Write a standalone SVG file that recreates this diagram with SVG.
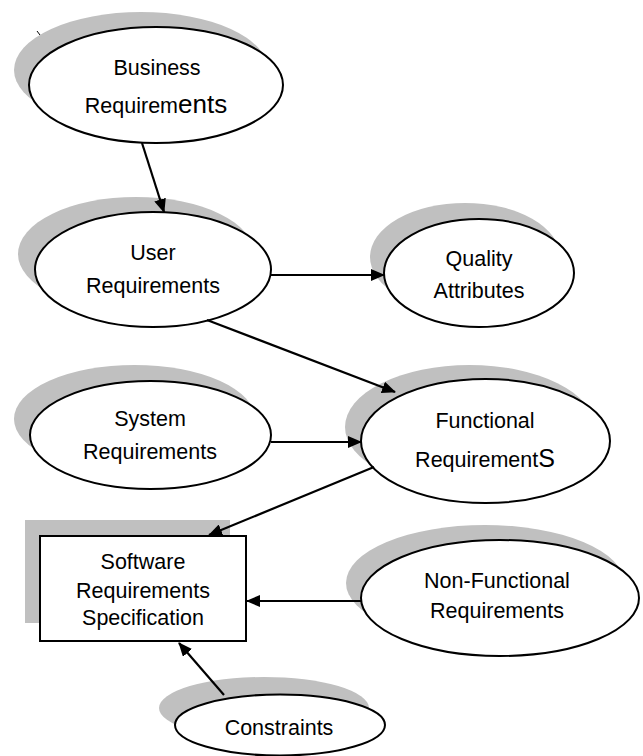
<svg xmlns="http://www.w3.org/2000/svg" width="643" height="756" viewBox="0 0 643 756">
<style>
.sh{fill:#c0c0c0;stroke:none}
.nd{fill:#fff;stroke:#000;stroke-width:2}
.tx{font-family:"Liberation Sans",Arial,sans-serif;font-size:21.5px;fill:#000;text-anchor:middle}
.big{font-size:26px}
.cn{stroke:#000;stroke-width:2.2;fill:none;marker-end:url(#ah)}
</style>
<defs>
<marker id="ah" markerUnits="userSpaceOnUse" markerWidth="14" markerHeight="12" refX="13" refY="6" orient="auto">
<path d="M0,0 L14,6 L0,12 z" fill="#000"/>
</marker>
</defs>
<rect width="643" height="756" fill="#fff"/>
<g id="business">
<ellipse class="sh" cx="141" cy="70" rx="127" ry="58"/>
<line x1="37" y1="31" x2="40" y2="35" stroke="#000" stroke-width="1"/>
<ellipse class="nd" cx="156" cy="85" rx="127" ry="58"/>
<text class="tx" x="157" y="75">Business</text>
<text class="tx" x="156" y="113">Requirem<tspan class="big">ents</tspan></text>
</g>
<g id="user">
<ellipse class="sh" cx="136" cy="254" rx="118" ry="57"/>
<ellipse class="nd" cx="153" cy="269.5" rx="118" ry="57.5"/>
<text class="tx" x="153" y="260">User</text>
<text class="tx" x="153" y="293">Requirements</text>
</g>
<g id="quality">
<ellipse class="sh" cx="465" cy="257" rx="95" ry="54"/>
<ellipse class="nd" cx="479" cy="273" rx="95" ry="54"/>
<text class="tx" x="479" y="266">Quality</text>
<text class="tx" x="479" y="298">Attributes</text>
</g>
<g id="system">
<ellipse class="sh" cx="134.5" cy="419" rx="120.5" ry="54"/>
<ellipse class="nd" cx="150.5" cy="435" rx="120.5" ry="54"/>
<text class="tx" x="150" y="426">System</text>
<text class="tx" x="150" y="459">Requirements</text>
</g>
<g id="functional">
<ellipse class="sh" cx="469.5" cy="427" rx="124.5" ry="62"/>
<ellipse class="nd" cx="485.5" cy="441" rx="124.5" ry="62"/>
<text class="tx" x="485" y="428">Functional</text>
<text class="tx" x="485" y="467">Requirement<tspan font-size="25">S</tspan></text>
</g>
<g id="srs">
<rect class="sh" x="25" y="520" width="205" height="103"/>
<rect class="nd" x="40" y="536" width="206" height="105" stroke-width="1.8"/>
<text class="tx" x="143" y="569">Software</text>
<text class="tx" x="143" y="598">Requirements</text>
<text class="tx" x="143" y="625">Specification</text>
</g>
<g id="nonfunctional">
<ellipse class="sh" cx="485" cy="583" rx="139" ry="58"/>
<ellipse class="nd" cx="500" cy="598" rx="139" ry="58"/>
<text class="tx" x="497" y="588">Non-Functional</text>
<text class="tx" x="497" y="618">Requirements</text>
</g>
<g id="constraints">
<ellipse class="sh" cx="264" cy="708" rx="105" ry="31"/>
<ellipse class="nd" cx="280" cy="725" rx="105" ry="30.5"/>
<text class="tx" x="279" y="735">Constraints</text>
</g>
<g id="connectors">
<line class="cn" x1="142" y1="143" x2="164" y2="212"/>
<line class="cn" x1="271" y1="275" x2="384" y2="275"/>
<line class="cn" x1="207" y1="320" x2="395" y2="392"/>
<line class="cn" x1="271" y1="442" x2="361" y2="442"/>
<line class="cn" x1="374" y1="467" x2="209" y2="535"/>
<line class="cn" x1="361" y1="601" x2="247" y2="601"/>
<line class="cn" x1="224" y1="695" x2="179" y2="643"/>
</g>
</svg>
